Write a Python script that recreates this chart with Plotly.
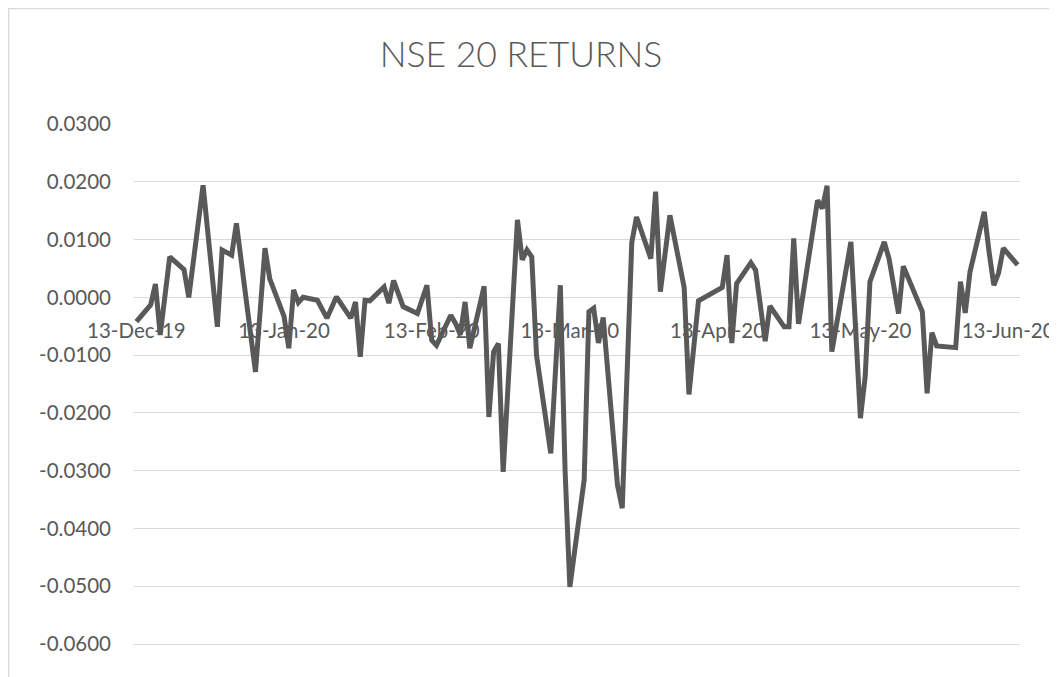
import plotly.graph_objects as go

dates = ["2019-12-13","2019-12-16","2019-12-17","2019-12-18","2019-12-20","2019-12-23","2019-12-24","2019-12-27","2019-12-30","2019-12-31",
         "2020-01-02","2020-01-03","2020-01-07","2020-01-09","2020-01-10","2020-01-13","2020-01-14","2020-01-15","2020-01-16","2020-01-17",
         "2020-01-20","2020-01-22","2020-01-24","2020-01-27","2020-01-28","2020-01-29","2020-01-30","2020-01-31",
         "2020-02-03","2020-02-04","2020-02-05","2020-02-07","2020-02-10","2020-02-12","2020-02-13","2020-02-14","2020-02-17","2020-02-18",
         "2020-02-19","2020-02-20","2020-02-21","2020-02-24","2020-02-25","2020-02-26","2020-02-27","2020-02-28",
         "2020-03-02","2020-03-03","2020-03-04","2020-03-05","2020-03-06","2020-03-09","2020-03-11","2020-03-12","2020-03-13","2020-03-16",
         "2020-03-17","2020-03-18","2020-03-19","2020-03-20","2020-03-23","2020-03-24","2020-03-26","2020-03-27","2020-03-30","2020-03-31",
         "2020-04-01","2020-04-03","2020-04-06","2020-04-07","2020-04-09","2020-04-14","2020-04-15","2020-04-16","2020-04-17","2020-04-20",
         "2020-04-21","2020-04-23","2020-04-24","2020-04-27","2020-04-28","2020-04-29","2020-04-30",
         "2020-05-04","2020-05-05","2020-05-06","2020-05-07","2020-05-11","2020-05-13","2020-05-14","2020-05-15","2020-05-18","2020-05-19",
         "2020-05-21","2020-05-22","2020-05-26","2020-05-27","2020-05-28","2020-05-29",
         "2020-06-02","2020-06-03","2020-06-04","2020-06-05","2020-06-08","2020-06-09","2020-06-10","2020-06-11","2020-06-12","2020-06-15"]

returns = [-0.0042,-0.0013,0.0023,-0.0065,0.0070,0.0048,0.0000,0.0194,-0.0051,0.0082,
           0.0073,0.0128,-0.0129,0.0085,0.0032,-0.0033,-0.0088,0.0013,-0.0009,0.0000,
           -0.0005,-0.0036,0.0001,-0.0036,-0.0008,-0.0103,-0.0005,-0.0006,
           0.0018,-0.0010,0.0029,-0.0016,-0.0028,0.0021,-0.0074,-0.0083,-0.0031,-0.0045,
           -0.0065,-0.0008,-0.0088,0.0019,-0.0207,-0.0094,-0.0080,-0.0302,
           0.0134,0.0065,0.0082,0.0070,-0.0100,-0.0270,0.0021,-0.0300,-0.0501,-0.0316,
           -0.0025,-0.0019,-0.0079,-0.0035,-0.0325,-0.0365,0.0095,0.0139,0.0067,0.0183,
           0.0010,0.0142,0.0017,-0.0168,-0.0006,0.0017,0.0073,-0.0079,0.0024,0.0060,
           0.0047,-0.0076,-0.0015,-0.0051,-0.0051,0.0102,-0.0046,
           0.0168,0.0154,0.0193,-0.0094,0.0096,-0.0209,-0.0137,0.0027,0.0096,0.0067,
           -0.0028,0.0054,-0.0025,-0.0166,-0.0061,-0.0084,
           -0.0087,0.0027,-0.0027,0.0044,0.0148,0.0079,0.0021,0.0042,0.0085,0.0056]

x_ticks = ["2019-12-13","2020-01-13","2020-02-13","2020-03-13","2020-04-13","2020-05-13","2020-06-13"]
x_tick_labels = ["13-Dec-19","13-Jan-20","13-Feb-20","13-Mar-20","13-Apr-20","13-May-20","13-Jun-20"]
y_ticks = [0.03,0.02,0.01,0.0,-0.01,-0.02,-0.03,-0.04,-0.05,-0.06]
y_tick_labels = ["0.0300","0.0200","0.0100","0.0000","-0.0100","-0.0200","-0.0300","-0.0400","-0.0500","-0.0600"]

# figure is placed at an 8px page offset, so it is 8px smaller than the window
W, H = 1049, 669
L, R, T, B = 126, W - 1012, 116, 0
y_min, y_max = -0.0657, 0.03
plot_h = H - T - B
plot_w = W - L - R
zero_pos = (0 - y_min) / (y_max - y_min)

fig = go.Figure()
fig.add_trace(go.Scatter(x=dates, y=returns, mode="lines",
                         line=dict(color="#595959", width=5), hoverinfo="x+y"))

font_main = "Lato, 'Open Sans', sans-serif"
fig.update_layout(
    width=W, height=H,
    margin=dict(l=L, r=R, t=T, b=B),
    paper_bgcolor="white", plot_bgcolor="white",
    showlegend=False,
    font=dict(family=font_main, color="#595959"),
    title=dict(text="NSE 20 RETURNS", x=513 / W, xref="container", xanchor="center",
               y=1 - 47 / H, yref="container", yanchor="middle",
               font=dict(family=font_main, size=35.5, color="#595959", weight=300)),
    xaxis=dict(type="date", range=["2019-12-12 12:00", "2020-06-15 12:00"],
               tickmode="array", tickvals=x_ticks, ticktext=x_tick_labels,
               anchor="free", position=zero_pos, showgrid=False, showline=False,
               zeroline=False, ticks="", tickfont=dict(size=20.5, color="#595959"),
               ticklabelstandoff=19),
    yaxis=dict(range=[y_min, y_max], tickmode="array", tickvals=y_ticks, ticktext=y_tick_labels,
               showgrid=True, gridcolor="#d9d9d9", gridwidth=1.3, zeroline=False,
               showline=False, ticks="", tickfont=dict(size=20.5, color="#595959"),
               ticklabelstandoff=22),
    shapes=[dict(type="rect", xref="paper", yref="paper",
                 x0=(0.7 - L) / plot_w, x1=(W + 10 - L) / plot_w,
                 y0=-0.2, y1=(H - 0.7 - B) / plot_h,
                 line=dict(color="#d9d9d9", width=1.3), fillcolor="rgba(0,0,0,0)", layer="below")],
)

fig.write_html("out.html")
